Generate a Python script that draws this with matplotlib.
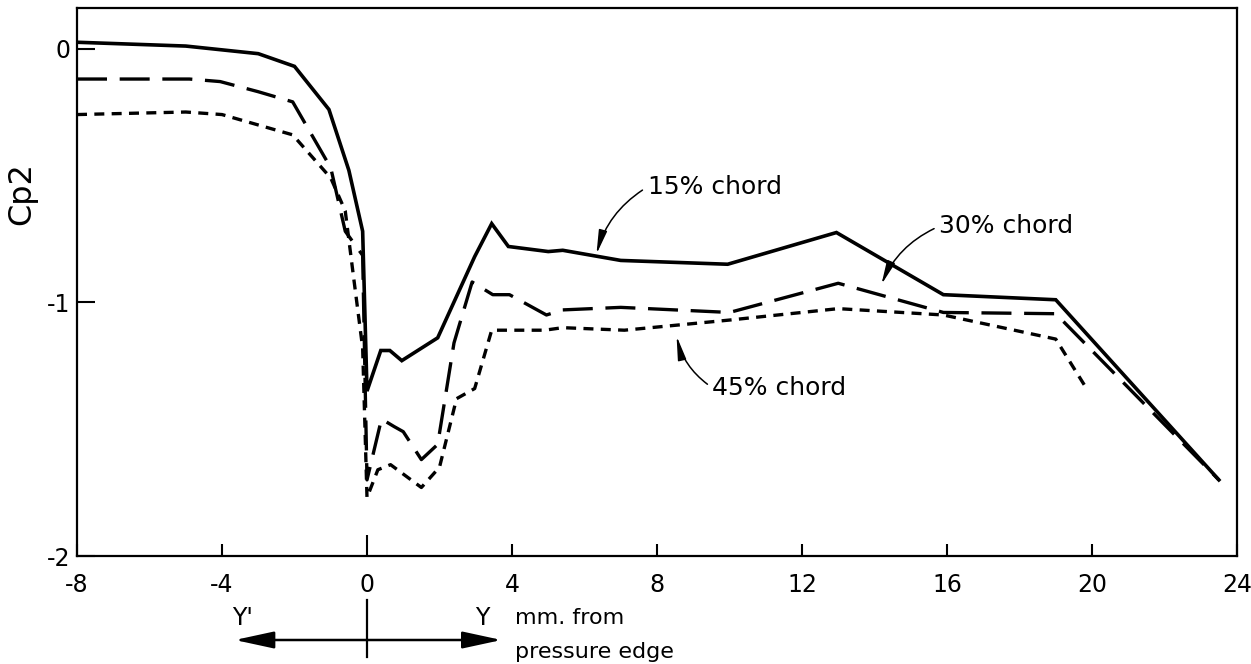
import matplotlib
matplotlib.use("Agg")
import matplotlib.pyplot as plt
import matplotlib.transforms as mtransforms

plt.rcParams['font.family'] = ['DejaVu Sans']
plt.rcParams['axes.unicode_minus'] = False

# ---- data ----
x15 = [-8, -5, -3, -2, -1.05, -0.5, -0.12, 0.0, 0.38, 0.63, 0.96, 1.95, 2.97, 3.44, 3.9, 5.0, 5.4, 7.0, 9.95, 12.95, 15.9, 19.0, 23.5]
y15 = [0.025, 0.01, -0.02, -0.07, -0.24, -0.48, -0.72, -1.35, -1.19, -1.19, -1.23, -1.14, -0.82, -0.69, -0.78, -0.80, -0.795, -0.835, -0.85, -0.725, -0.97, -0.99, -1.70]

x30 = [-8, -4.9, -4.05, -3.0, -2.05, -1.0, -0.6, -0.12, 0.0, 0.4, 0.75, 1.0, 1.5, 1.95, 2.4, 2.9, 3.47, 3.93, 4.95, 5.4, 7.0, 10.0, 13.0, 15.9, 19.0, 23.5]
y30 = [-0.12, -0.12, -0.13, -0.17, -0.21, -0.47, -0.72, -0.815, -1.70, -1.46, -1.49, -1.51, -1.62, -1.56, -1.16, -0.92, -0.97, -0.97, -1.05, -1.03, -1.02, -1.04, -0.925, -1.04, -1.045, -1.70]

x45 = [-8, -5, -4.0, -2.05, -1.0, -0.6, -0.38, -0.12, 0.0, 0.3, 0.65, 1.5, 2.0, 2.47, 2.97, 3.44, 4.9, 5.4, 7.1, 10.0, 13.0, 15.9, 19.0, 19.85]
y45 = [-0.26, -0.25, -0.26, -0.34, -0.51, -0.64, -0.89, -1.18, -1.77, -1.66, -1.64, -1.73, -1.65, -1.38, -1.34, -1.11, -1.11, -1.10, -1.11, -1.07, -1.025, -1.05, -1.145, -1.34]

xticks = [-8, -4, 0, 4, 8, 12, 16, 20, 24]
xticklabels = ['-8', '-4', '0', '4', '8', '12', '16', '20', '24']
yticks = [0, -1, -2]
yticklabels = ['0', '-1', '-2']

labels = ['15% chord', '30% chord', '45% chord']
label_text_pos = [(7.74, -0.545), (15.79, -0.70), (9.53, -1.337)]
label_tip_pos = [(6.33, -0.81), (14.19, -0.93), (8.54, -1.133)]

# ---- figure ----
fig = plt.figure(figsize=(12.51, 6.64), dpi=100)
ax = fig.add_axes([77/1251, 1 - 556/664, (1237-77)/1251, (556-8)/664])

ax.plot(x15, y15, color='black', lw=2.6, solid_joinstyle='miter')
ax.plot(x30, y30, color='black', lw=2.4, linestyle=(0, (9, 3.8)))
ax.plot(x45, y45, color='black', lw=2.4, linestyle=(0, (3.0, 2.2)))

ax.set_xlim(-8, 24)
ax.set_ylim(-2, 0.16)

ax.set_xticks(xticks)
ax.set_xticklabels(xticklabels, fontsize=17)
ax.set_yticks(yticks)
ax.set_yticklabels(yticklabels, fontsize=17)
ax.tick_params(axis='x', direction='in', length=9, width=1.5, pad=12)
ax.tick_params(axis='y', direction='in', length=13, width=1.5, pad=5)
# longer tick at 0
ax.xaxis.get_major_ticks()[2].tick1line.set_markersize(15)
ax.tick_params(top=False, right=False)

for s in ax.spines.values():
    s.set_linewidth(1.6)

fig.text(22/1251, 1 - 193/664, 'Cp2', rotation=90, fontsize=23,
         ha='center', va='center')

for lab, tpos, tip, rad in zip(labels, label_text_pos, label_tip_pos, [0.2, 0.2, -0.2]):
    ax.annotate(lab, xy=tip, xytext=tpos, fontsize=18, ha='left', va='center',
                arrowprops=dict(arrowstyle='-|>,head_length=0.8,head_width=0.14',
                                color='black', lw=1.1, relpos=(0.0, 0.5),
                                connectionstyle=f'arc3,rad={rad}',
                                shrinkA=2, shrinkB=0))

# ---- Y'/Y direction diagram below axis ----
tr = mtransforms.blended_transform_factory(ax.transData, fig.transFigure)
ax.plot([0, 0], [1 - 600/664, 1 - 657/664], transform=tr, color='black',
        lw=1.6, clip_on=False)
ax.annotate('', xy=(3.71, 1 - 640/664), xytext=(-3.645, 1 - 640/664),
            xycoords=tr, textcoords=tr,
            arrowprops=dict(arrowstyle='<|-|>,head_length=1.2,head_width=0.26',
                            color='black', lw=1.8, mutation_scale=20,
                            shrinkA=0, shrinkB=0))
ax.text(-3.42, 1 - 618/664, "Y'", transform=tr, fontsize=17, ha='center', va='center')
ax.text(3.19, 1 - 618/664, "Y", transform=tr, fontsize=17, ha='center', va='center')
ax.text(4.07, 1 - 618/664, "mm. from", transform=tr, fontsize=16, ha='left', va='center')
ax.text(4.07, 1 - 652/664, "pressure edge", transform=tr, fontsize=16, ha='left', va='center')

fig.savefig('out.png', dpi=100)
